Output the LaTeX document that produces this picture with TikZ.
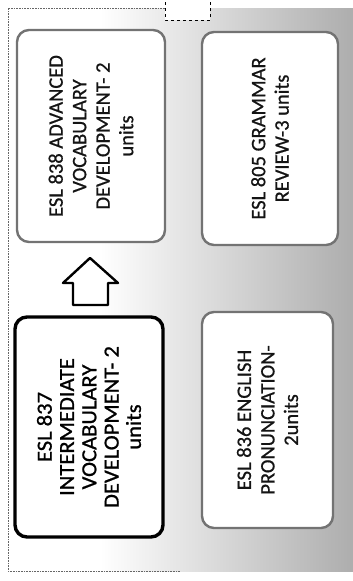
\documentclass[tikz,border=0pt]{standalone}
\usepackage{fontspec}
\setmainfont{Carlito}
\newfontfamily\heavyfont{Carlito}[FakeBold=0.7]
\newfontfamily\widefont{Carlito}[FakeBold=0.9,FakeStretch=1.05]
\begin{document}
\begin{tikzpicture}[x=1pt,y=-1pt,
  course/.style={draw=black!55, line width=2.4pt, fill=white, rounded corners=12pt,
    rotate=90, align=center, text=black!92, inner sep=2pt},
  currentcourse/.style={course, draw=black, line width=3.4pt, text=black},
  txtA/.style={font=\heavyfont\fontsize{20.5}{23.5}\selectfont},
  txtC/.style={font=\widefont\fontsize{21.5}{22.3}\selectfont},
  blockarrow/.style={draw=black, line width=2.4pt, fill=white, line join=round}]
\useasboundingbox (0,0) rectangle (353,581);
\fill[white] (0,0) rectangle (353,581);
% background panel
\shade[left color=white, right color=black!32, shading angle=90] (100,8) rectangle (353,571);
\fill[white] (8,8) rectangle (100.5,571);
\fill[white] (165,0) rectangle (210,20);
\draw[black!60, densely dotted, line width=0.6pt] (165,8) -- (8,8) -- (8,571) -- (180,571);
\draw[black, dashed, line width=0.8pt] (165,2) -- (165,20) -- (210,20) -- (210,0);
% boxes
\node[course, txtA, minimum width=212pt, minimum height=148pt] (adv) at (91,136)
  {ESL 838 ADVANCED\\VOCABULARY\\DEVELOPMENT- 2\\units};
\node[course, txtA, minimum width=213pt, minimum height=136pt] (gram) at (270,138.5)
  {ESL 805 GRAMMAR\\REVIEW-3 units};
\node[currentcourse, txtC, minimum width=220pt, minimum height=148pt] (inter) at (89,427)
  {ESL 837\\INTERMEDIATE\\VOCABULARY\\DEVELOPMENT- 2\\units};
\node[course, txtA, minimum width=216pt, minimum height=131pt] (pron) at (267.5,420)
  {ESL 836 ENGLISH\\PRONUNCIATION-\\2units};
% hollow block arrow from inter to adv
\coordinate (tip) at (90,258);
\draw[blockarrow] (tip) -- (118,283) -- (108,283) -- (108,305) -- (73,305) -- (73,283) -- (63,283) -- cycle;
\end{tikzpicture}
\end{document}
